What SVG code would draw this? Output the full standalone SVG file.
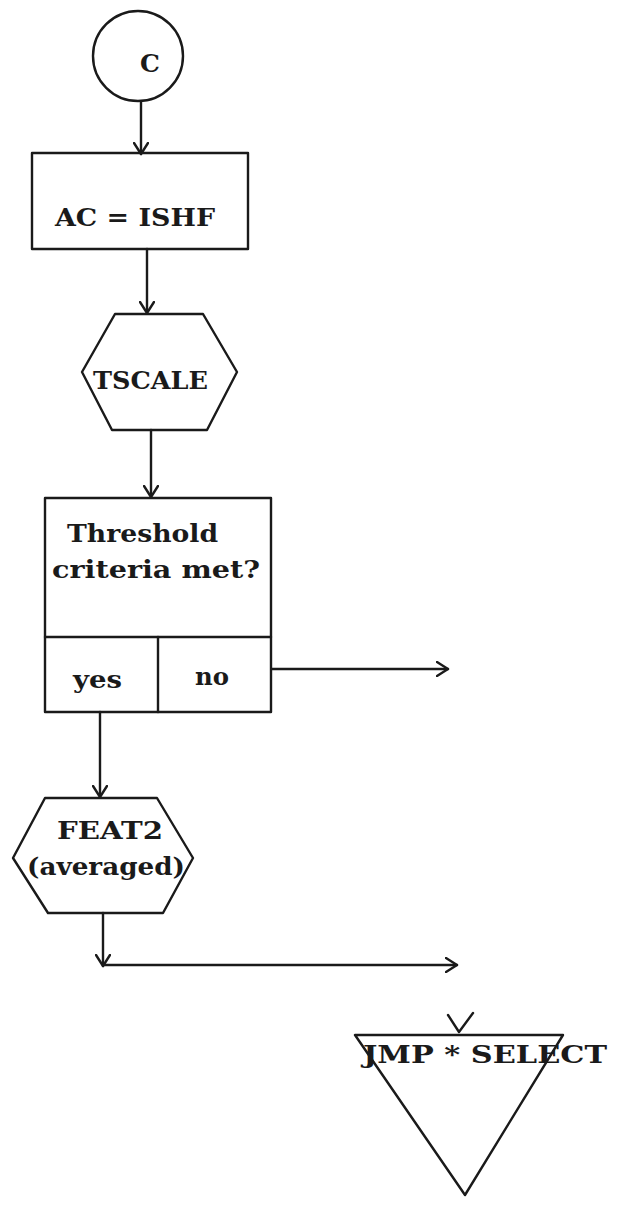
<svg xmlns="http://www.w3.org/2000/svg" width="619" height="1206" viewBox="0 0 619 1206">
<style>
.s{fill:none;stroke:#1a1a1a;stroke-width:2.4;stroke-linejoin:round;stroke-linecap:round}
.t{font-family:"DejaVu Serif","Liberation Serif",serif;font-weight:bold;fill:#1a1a1a;font-size:25px}
</style>
<defs>
<marker id="ah" markerWidth="16" markerHeight="16" refX="12" refY="8" orient="auto" markerUnits="userSpaceOnUse">
<path d="M1,1 L12,8 L1,15" fill="none" stroke="#1a1a1a" stroke-width="2.4" stroke-linecap="round" stroke-linejoin="round"/>
</marker>
</defs>
<rect width="619" height="1206" fill="#ffffff"/>
<g id="connectors">
<line class="s" x1="141" y1="102" x2="141" y2="154" marker-end="url(#ah)"/>
<line class="s" x1="147" y1="249" x2="147" y2="313" marker-end="url(#ah)"/>
<line class="s" x1="151" y1="430" x2="151" y2="497" marker-end="url(#ah)"/>
<line class="s" x1="272" y1="669" x2="448" y2="669" marker-end="url(#ah)"/>
<line class="s" x1="100" y1="712" x2="100" y2="797" marker-end="url(#ah)"/>
<line class="s" x1="103" y1="913" x2="103" y2="966" marker-end="url(#ah)"/>
<line class="s" x1="103" y1="965" x2="457" y2="965" marker-end="url(#ah)"/>
<path class="s" d="M448,1015 L459,1032 L473,1013"/>
</g>
<g id="node-c">
<circle class="s" cx="138" cy="56" r="45"/>
<text class="t" x="150" y="72" text-anchor="middle">C</text>
</g>
<g id="node-ac">
<rect class="s" x="32" y="153" width="216" height="96"/>
<text class="t" x="55" y="226" textLength="160" lengthAdjust="spacingAndGlyphs">AC = ISHF</text>
</g>
<g id="node-tscale">
<polygon class="s" points="115,314 203,314 237,372 207,430 112,430 82,372"/>
<text class="t" x="93" y="389" textLength="115" lengthAdjust="spacingAndGlyphs">TSCALE</text>
</g>
<g id="node-threshold">
<rect class="s" x="45" y="498" width="226" height="214"/>
<line class="s" x1="45" y1="637" x2="271" y2="637"/>
<line class="s" x1="158" y1="637" x2="158" y2="712"/>
<text class="t" x="67" y="542" textLength="151" lengthAdjust="spacingAndGlyphs">Threshold</text>
<text class="t" x="52" y="578" textLength="208" lengthAdjust="spacingAndGlyphs">criteria met?</text>
<text class="t" x="73" y="688" textLength="49" lengthAdjust="spacingAndGlyphs">yes</text>
<text class="t" x="195" y="685" textLength="34" lengthAdjust="spacingAndGlyphs">no</text>
</g>
<g id="node-feat2">
<polygon class="s" points="45,798 157,798 193,858 163,913 48,913 13,858"/>
<text class="t" x="57" y="839" textLength="106" lengthAdjust="spacingAndGlyphs">FEAT2</text>
<text class="t" x="27" y="875" textLength="158" lengthAdjust="spacingAndGlyphs">(averaged)</text>
</g>
<g id="node-jmp">
<polygon class="s" points="355,1035 563,1035 465,1195"/>
<text class="t" x="363" y="1063" textLength="244" lengthAdjust="spacingAndGlyphs">JMP * SELECT</text>
</g>
</svg>
